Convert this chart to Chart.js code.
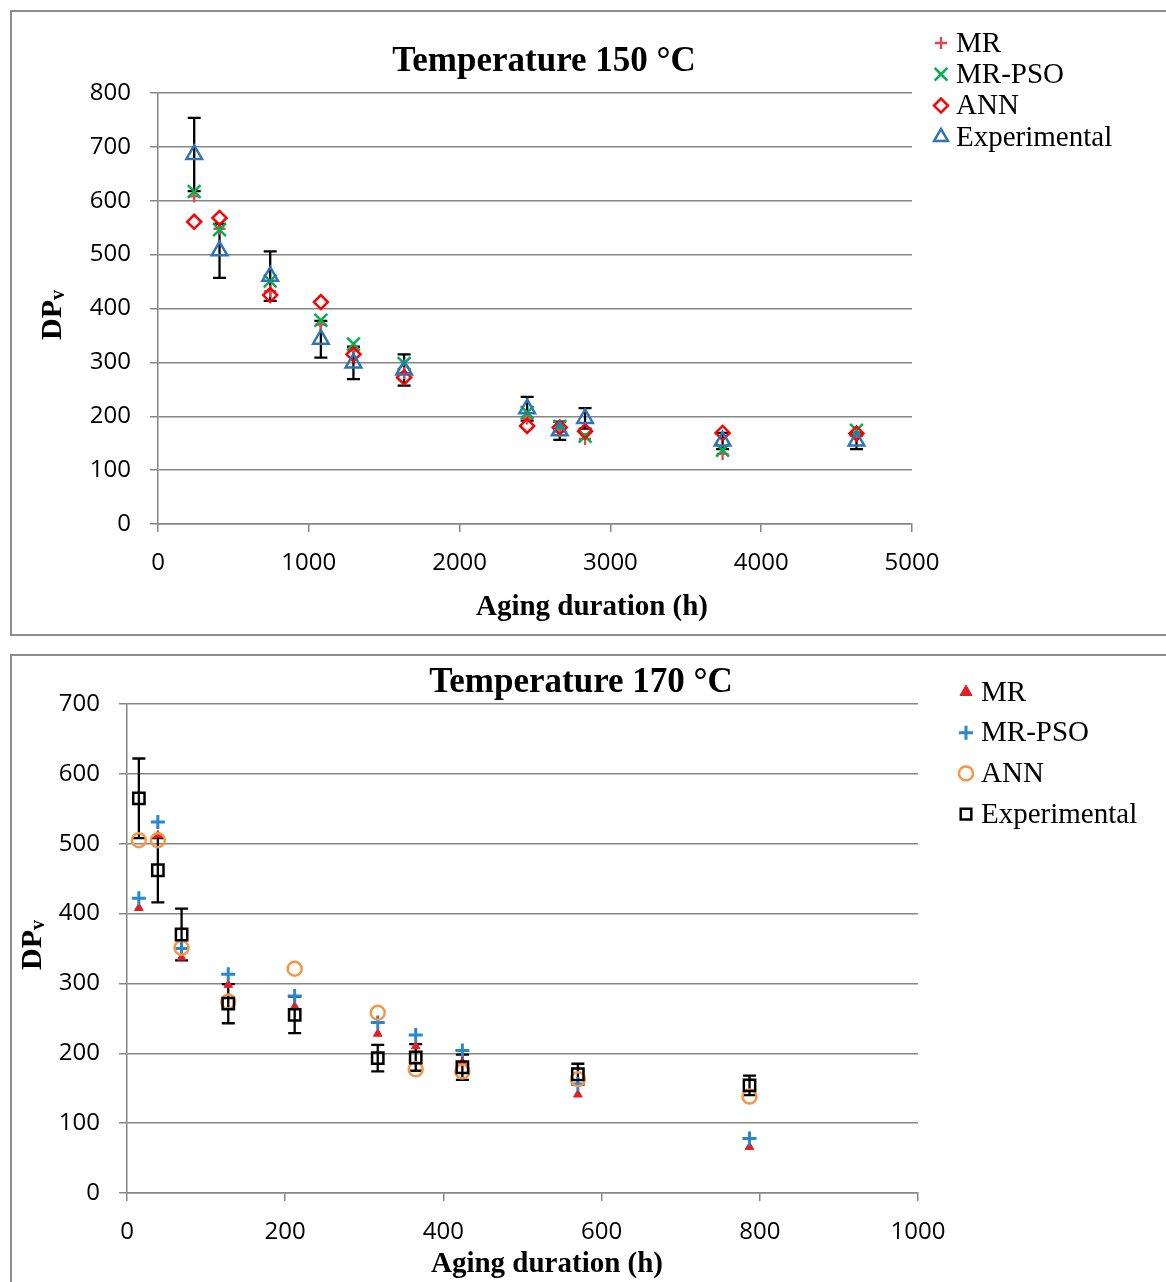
<!DOCTYPE html>
<html>
<head>
<meta charset="utf-8">
<script src="https://cdn.jsdelivr.net/npm/chart.js@4.4.0/dist/chart.umd.min.js"></script>
<style>
  body { margin: 0; background: #fff; width: 1166px; height: 1282px; overflow: hidden; position: relative; }
  .panel { position: absolute; left: 10px; width: 1170px; border: 2px solid #8c8c8c; background: #fff; }
  #p1 { top: 10px; height: 622px; }
  #p2 { top: 654px; height: 640px; }
  canvas { position: absolute; left: 0; top: 0; }
</style>
</head>
<body>
<div class="panel" id="p1"><canvas id="c150" width="1154" height="622"></canvas></div>
<div class="panel" id="p2"><canvas id="c170" width="1154" height="626"></canvas></div>
<script>
// ---- Temperature 150 °C ----
const hours150 = [240, 408, 744, 1080, 1296, 1632, 2448, 2664, 2832, 3744, 4632];
const mr150    = [608, 548, 432, 370, 322, 280, 196, 172, 158, 130, 166];
const pso150   = [617, 546, 451, 378, 334, 298, 207, 181, 163, 137, 174];
const ann150   = [561, 568, 425, 412, 315, 272, 182, 179, 172, 169, 168];
const exp150   = [686, 507, 460, 343, 299, 286, 214, 173, 196, 154, 154];
const err150   = [68, 50, 46, 34, 30, 29, 22, 17, 19, 15, 15];
const xTicks150 = [0, 1000, 2000, 3000, 4000, 5000];
const yTicks150 = [0, 100, 200, 300, 400, 500, 600, 700, 800];

// ---- Temperature 170 °C ----
const hours170 = [15, 39, 69, 128, 212, 317, 365, 424, 570, 787];
const mr170    = [408, 512, 337, 298, 267, 228, 210, 187, 141, 66];
const pso170   = [422, 531, 350, 313, 282, 244, 226, 204, 156, 78];
const ann170   = [505, 505, 351, 274, 321, 258, 177, 174, 163, 138];
const exp170   = [565, 462, 370, 271, 255, 193, 194, 180, 170, 154];
const err170   = [57, 46, 37, 28, 26, 19, 19, 18, 15, 14];
const xTicks170 = [0, 200, 400, 600, 800, 1000];
const yTicks170 = [0, 100, 200, 300, 400, 500, 600, 700];

const GRID = '#868686';
const TICK_FONT = { family: "'Open Sans', sans-serif", size: 24 };
const SERIF = "'Liberation Serif', 'Times New Roman', serif";

const pts = (xs, ys) => xs.map((x, i) => ({ x: x, y: ys[i] }));

// black error bars on the experimental series
const errorBars = {
    id: 'errorBars',
    beforeDatasetsDraw(chart) {
        const { ctx, scales: { x, y } } = chart;
        ctx.save();
        ctx.strokeStyle = '#000';
        ctx.lineWidth = 2.3;
        chart.data.datasets.forEach(ds => {
            if (!ds.err) return;
            ds.data.forEach((p, i) => {
                const px = x.getPixelForValue(p.x);
                const top = y.getPixelForValue(p.y + ds.err[i]);
                const bot = y.getPixelForValue(p.y - ds.err[i]);
                ctx.beginPath();
                ctx.moveTo(px, top); ctx.lineTo(px, bot);
                ctx.moveTo(px - 6.5, top); ctx.lineTo(px + 6.5, top);
                ctx.moveTo(px - 6.5, bot); ctx.lineTo(px + 6.5, bot);
                ctx.stroke();
            });
        });
        ctx.restore();
    }
};

// titles, axis titles and legend at fixed spots, like the Excel layout
const textPlugin = {
    id: 'texts',
    afterDraw(chart, args, o) {
        const ctx = chart.ctx;
        ctx.save();
        ctx.fillStyle = '#000';
        ctx.textAlign = 'center';
        ctx.textBaseline = 'middle';
        ctx.font = 'bold 35px ' + SERIF;
        ctx.fillText(o.title, o.titleX, o.titleY);
        ctx.font = 'bold 29px ' + SERIF;
        ctx.fillText('Aging duration (h)', o.xTitleX, o.xTitleY);

        // DPv, rotated, with subscript v
        ctx.translate(o.yTitleX, o.yTitleY);
        ctx.rotate(-Math.PI / 2);
        ctx.textAlign = 'left';
        ctx.font = 'bold 30px ' + SERIF;
        const wDP = ctx.measureText('DP').width;
        ctx.font = 'bold 20px ' + SERIF;
        const wV = ctx.measureText('v').width;
        const start = -(wDP + wV) / 2;
        ctx.font = 'bold 30px ' + SERIF;
        ctx.fillText('DP', start, 0);
        ctx.font = 'bold 20px ' + SERIF;
        ctx.fillText('v', start + wDP, 6);
        ctx.setTransform(1, 0, 0, 1, 0, 0);

        // legend
        ctx.font = '29px ' + SERIF;
        ctx.textAlign = 'left';
        chart.data.datasets.forEach((ds, i) => {
            const y = o.legendY + i * o.legendGap;
            ctx.save();
            ctx.strokeStyle = ds.borderColor;
            ctx.fillStyle = ds.backgroundColor;
            ctx.lineWidth = ds.borderWidth;
            Chart.helpers.drawPoint(ctx, {
                pointStyle: ds.pointStyle,
                radius: ds.legendRadius,
                borderWidth: ds.borderWidth,
                rotation: 0
            }, o.legendX, y);
            ctx.restore();
            ctx.fillStyle = '#000';
            ctx.fillText(ds.label, o.legendTextX, y + 1);
        });
        ctx.restore();
    }
};

function makeChart(id, datasets, xTicks, yTicks, area, canvasH, labels) {
    new Chart(document.getElementById(id), {
        type: 'scatter',
        data: { datasets: datasets },
        options: {
            responsive: false,
            animation: false,
            layout: { padding: { left: 0, top: area.top, right: 1154 - area.right, bottom: 0 } },
            plugins: {
                legend: { display: false },
                tooltip: { enabled: false },
                texts: labels
            },
            scales: {
                x: {
                    type: 'linear',
                    min: xTicks[0],
                    max: xTicks[xTicks.length - 1],
                    afterBuildTicks: s => { s.ticks = xTicks.map(v => ({ value: v })); },
                    afterFit: s => { s.height = canvasH - area.bottom; },
                    grid: { drawOnChartArea: false, drawTicks: true, tickLength: 8, color: GRID, lineWidth: 1.5 },
                    border: { display: true, color: GRID, width: 1.5 },
                    ticks: { font: TICK_FONT, color: '#000', padding: 17, maxRotation: 0, callback: v => String(v) }
                },
                y: {
                    min: yTicks[0],
                    max: yTicks[yTicks.length - 1],
                    afterBuildTicks: s => { s.ticks = yTicks.map(v => ({ value: v })); },
                    afterFit: s => { s.width = area.left; },
                    grid: { color: GRID, lineWidth: 1.5, tickLength: 8 },
                    border: { display: true, color: GRID, width: 1.5 },
                    ticks: { font: TICK_FONT, color: '#000', padding: 19, callback: v => String(v) }
                }
            }
        },
        plugins: [errorBars, textPlugin]
    });
}

makeChart('c150', [
    { label: 'MR', data: pts(hours150, mr150), pointStyle: 'cross', pointRadius: 6, legendRadius: 6,
      borderColor: '#e4474d', backgroundColor: 'rgba(0,0,0,0)', borderWidth: 2.3, order: 4 },
    { label: 'MR-PSO', data: pts(hours150, pso150), pointStyle: 'crossRot', pointRadius: 9, legendRadius: 9,
      borderColor: '#00b050', backgroundColor: 'rgba(0,0,0,0)', borderWidth: 2.5, order: 3 },
    { label: 'ANN', data: pts(hours150, ann150), pointStyle: 'rectRot', pointRadius: 7, legendRadius: 7,
      borderColor: '#ff0000', backgroundColor: 'rgba(0,0,0,0)', borderWidth: 2.5, order: 2 },
    { label: 'Experimental', data: pts(hours150, exp150), err: err150, pointStyle: 'triangle', pointRadius: 9, legendRadius: 8,
      borderColor: '#2e75b6', backgroundColor: 'rgba(0,0,0,0)', borderWidth: 2.5, order: 1 }
], xTicks150, yTicks150, { left: 146, right: 900, top: 81, bottom: 512 }, 622, {
    title: 'Temperature 150 °C', titleX: 532, titleY: 50,
    xTitleX: 580, xTitleY: 596,
    yTitleX: 41, yTitleY: 303,
    legendX: 929, legendTextX: 944, legendY: 31, legendGap: 31.3
});

makeChart('c170', [
    { label: 'MR', data: pts(hours170, mr170), pointStyle: 'triangle', pointRadius: 5, legendRadius: 7,
      borderColor: '#e41e26', backgroundColor: '#e41e26', borderWidth: 1, order: 4 },
    { label: 'MR-PSO', data: pts(hours170, pso170), pointStyle: 'cross', pointRadius: 7, legendRadius: 7,
      borderColor: '#2b86cb', backgroundColor: 'rgba(0,0,0,0)', borderWidth: 3, order: 3 },
    { label: 'ANN', data: pts(hours170, ann170), pointStyle: 'circle', pointRadius: 7, legendRadius: 7,
      borderColor: '#f79646', backgroundColor: 'rgba(0,0,0,0)', borderWidth: 2.5, order: 2 },
    { label: 'Experimental', data: pts(hours170, exp170), err: err170, pointStyle: 'rect', pointRadius: 8, legendRadius: 7.5,
      borderColor: '#000000', backgroundColor: 'rgba(0,0,0,0)', borderWidth: 2.5, order: 1 }
], xTicks170, yTicks170, { left: 115, right: 906, top: 48, bottom: 537 }, 626, {
    title: 'Temperature 170 °C', titleX: 569, titleY: 27,
    xTitleX: 535, xTitleY: 609,
    yTitleX: 21, yTitleY: 289,
    legendX: 954, legendTextX: 969, legendY: 36, legendGap: 40.7
});
</script>
</body>
</html>
